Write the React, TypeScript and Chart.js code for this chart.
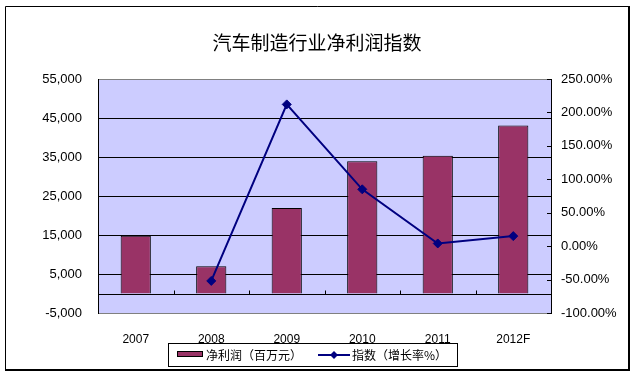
import React, { useEffect, useRef } from "react";
import { Chart, registerables } from "chart.js";

Chart.register(...registerables);

const categories = ["2007", "2008", "2009", "2010", "2011", "2012F"];
const profitValues = [14800, 7000, 21900, 33900, 35300, 43100];
const indexValues = [null, -52, 212, 85, 4, 15];
const titleText = "汽车制造行业净利润指数";
const barLabel = "净利润（百万元）";
const lineLabel = "指数（增长率%）";

const BAR_COLOR = "#993366";
const LINE_COLOR = "#000080";
const PLOT_BG = "#CCCCFF";
const CJK = '"Noto Sans CJK SC", "Noto Sans", sans-serif';
const NUM = '"Liberation Sans", Arial, sans-serif';
const CAT = '"Liberation Sans Narrow", "Liberation Sans", Arial, sans-serif';

const decorPlugin = {
  id: "decor",
  beforeDraw(chart: any) {
    const { ctx, chartArea } = chart;
    ctx.save();
    ctx.fillStyle = "#ffffff";
    ctx.fillRect(0, 0, chart.width, chart.height);
    ctx.fillStyle = PLOT_BG;
    ctx.fillRect(chartArea.left, chartArea.top, chartArea.right - chartArea.left, chartArea.bottom - chartArea.top);
    ctx.restore();
  },
  beforeDatasetsDraw(chart: any) {
    const { ctx, chartArea, scales } = chart;
    const y0 = Math.round(scales.y.getPixelForValue(0)) + 0.5;
    ctx.save();
    ctx.strokeStyle = "#000000";
    ctx.lineWidth = 1;
    ctx.beginPath();
    ctx.moveTo(chartArea.left, y0);
    ctx.lineTo(chartArea.right, y0);
    const n = categories.length;
    for (let i = 1; i < n; i++) {
      const xb = Math.round((scales.x.getPixelForTick(i - 1) + scales.x.getPixelForTick(i)) / 2) + 0.5;
      ctx.moveTo(xb, y0);
      ctx.lineTo(xb, y0 - 4);
    }
    scales.y1.ticks.forEach((t: any) => {
      const yy = Math.round(scales.y1.getPixelForValue(t.value)) + 0.5;
      ctx.moveTo(chartArea.right - 4, yy);
      ctx.lineTo(chartArea.right, yy);
    });
    ctx.stroke();
    ctx.restore();
  },
  afterDraw(chart: any) {
    const { ctx } = chart;
    ctx.save();
    ctx.strokeStyle = "#000000";
    ctx.lineWidth = 1;
    ctx.beginPath();
    ctx.moveTo(5.5, 370);
    ctx.lineTo(5.5, 6.5);
    ctx.lineTo(630, 6.5);
    ctx.stroke();
    ctx.lineWidth = 2;
    ctx.beginPath();
    ctx.moveTo(629, 6);
    ctx.lineTo(629, 370);
    ctx.lineTo(5, 370);
    ctx.stroke();

    ctx.fillStyle = "#000000";
    ctx.font = `19px ${CJK}`;
    ctx.textAlign = "center";
    ctx.textBaseline = "middle";
    ctx.fillText(titleText, 317, 43);

    ctx.lineWidth = 1;
    ctx.strokeStyle = "#000000";
    ctx.strokeRect(168.5, 343.5, 289, 23);
    ctx.fillStyle = BAR_COLOR;
    ctx.fillRect(177, 351, 26, 6);
    ctx.strokeRect(177.5, 351.5, 25, 5);
    ctx.fillStyle = "#000000";
    ctx.font = `12px ${CJK}`;
    ctx.textAlign = "left";
    ctx.textBaseline = "middle";
    ctx.fillText(barLabel, 206, 355);
    ctx.strokeStyle = LINE_COLOR;
    ctx.lineWidth = 2;
    ctx.beginPath();
    ctx.moveTo(318, 355);
    ctx.lineTo(350, 355);
    ctx.stroke();
    ctx.fillStyle = LINE_COLOR;
    ctx.beginPath();
    ctx.moveTo(334, 351);
    ctx.lineTo(338, 355);
    ctx.lineTo(334, 359);
    ctx.lineTo(330, 355);
    ctx.closePath();
    ctx.fill();
    ctx.fillStyle = "#000000";
    ctx.fillText(lineLabel, 352, 355);
    ctx.restore();
  },
};

export default function App() {
  const ref = useRef<HTMLCanvasElement | null>(null);
  useEffect(() => {
    if (!ref.current) return;
    const chart = new Chart(ref.current, {
      type: "bar",
      data: {
        labels: categories,
        datasets: [
          {
            type: "line",
            label: lineLabel,
            data: indexValues as any,
            yAxisID: "y1",
            borderColor: LINE_COLOR,
            backgroundColor: LINE_COLOR,
            borderWidth: 2,
            pointStyle: "rectRot",
            pointRadius: 4.5,
            pointBorderWidth: 1,
            tension: 0,
            spanGaps: false,
            order: 0,
          } as any,
          {
            type: "bar",
            label: barLabel,
            data: profitValues,
            yAxisID: "y",
            backgroundColor: BAR_COLOR,
            borderColor: "#000000",
            borderWidth: 1,
            barPercentage: 0.4,
            categoryPercentage: 1,
            order: 1,
          },
        ],
      },
      options: {
        responsive: false,
        animation: false,
        events: [],
        layout: { padding: { top: 79, left: 0, right: 0, bottom: 0 } },
        plugins: {
          legend: { display: false },
          title: { display: false },
          tooltip: { enabled: false },
        },
        scales: {
          x: {
            offset: true,
            grid: { display: false },
            border: { display: false },
            ticks: {
              color: "#000000",
              font: { family: CAT, size: 12 },
              padding: 11,
              maxRotation: 0,
            },
            afterFit(scale: any) {
              scale.height = 64;
            },
          },
          y: {
            position: "left",
            min: -5000,
            max: 55000,
            ticks: {
              stepSize: 10000,
              color: "#000000",
              font: { family: NUM, size: 13 },
              padding: 16,
              callback: (v: any) => Number(v).toLocaleString("en-US"),
            },
            grid: {
              drawTicks: false,
              color: (c: any) =>
                c.tick && (c.tick.value === 55000 || c.tick.value === -5000) ? "#808080" : "#000000",
              lineWidth: 1,
            },
            border: { display: true, color: "#000000", width: 1 },
            afterFit(scale: any) {
              scale.width = 98;
            },
          },
          y1: {
            position: "right",
            min: -100,
            max: 250,
            ticks: {
              stepSize: 50,
              color: "#000000",
              font: { family: NUM, size: 13 },
              padding: 10,
              callback: (v: any) => Number(v).toFixed(2) + "%",
            },
            grid: { drawOnChartArea: false, drawTicks: false },
            border: { display: true, color: "#000000", width: 1 },
            afterFit(scale: any) {
              scale.width = 85;
            },
          },
        },
      } as any,
      plugins: [decorPlugin],
    });
    return () => chart.destroy();
  }, []);
  return (
    <div style={{ position: "absolute", left: 0, top: 0, width: 636, height: 377 }}>
      <canvas ref={ref} width={636} height={377} style={{ display: "block" }} />
    </div>
  );
}
